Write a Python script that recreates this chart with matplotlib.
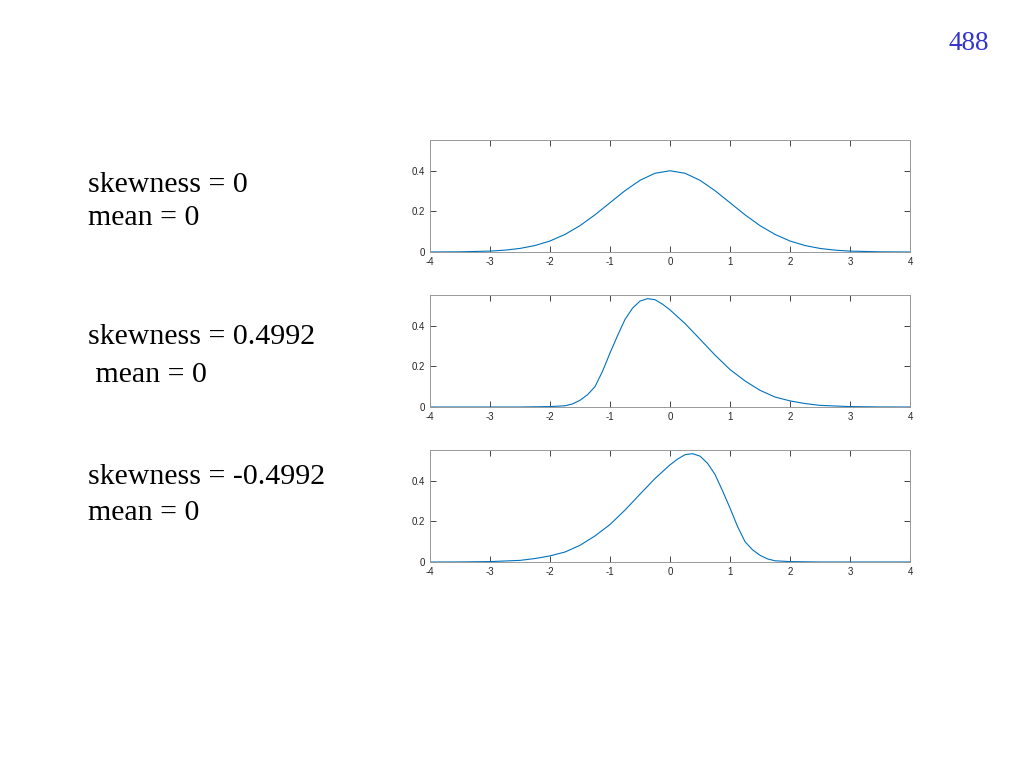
import matplotlib
matplotlib.use("Agg")
import matplotlib.pyplot as plt
plt.rcParams['axes.unicode_minus'] = False

x_norm = [-4,-3.5,-3,-2.75,-2.5,-2.25,-2,-1.75,-1.5,-1.25,-1,-0.75,-0.5,-0.25,0,
          0.25,0.5,0.75,1,1.25,1.5,1.75,2,2.25,2.5,2.75,3,3.5,4]
y_norm = [0.0001,0.0009,0.0044,0.0091,0.0175,0.0317,0.054,0.0863,0.1295,0.1826,0.242,0.3011,0.3521,0.3867,0.3989,
          0.3867,0.3521,0.3011,0.242,0.1826,0.1295,0.0863,0.054,0.0317,0.0175,0.0091,0.0044,0.0009,0.0001]

x_skew = [-4,-3,-2.5,-2.25,-2,-1.75,-1.625,-1.5,-1.375,-1.25,-1.125,-1,-0.875,-0.75,-0.625,-0.5,-0.375,-0.25,
          -0.125,0,0.25,0.5,0.75,1,1.25,1.5,1.75,2,2.25,2.5,3,3.5,4]
y_skew = [0,0,0,0.001,0.002,0.006,0.015,0.033,0.06,0.10,0.175,0.265,0.35,0.43,0.485,0.52,0.532,0.527,
          0.505,0.477,0.41,0.333,0.255,0.184,0.128,0.082,0.049,0.030,0.017,0.008,0.002,0.0003,0]

x_left = [-v for v in x_skew]

labels1 = ["skewness = 0", "skewness = 0.4992", "skewness = -0.4992"]
labels2 = ["mean = 0", " mean = 0", "mean = 0"]
lab_y1 = [185, 337, 477]
lab_y2 = [218, 375, 513]
series = [(x_norm, y_norm), (x_skew, y_skew), (x_left, y_skew)]

fig = plt.figure(figsize=(10.24, 7.68), dpi=100)
W, H = 1024, 768
tops = [140, 295, 450]
grey = "#262626"
for (xs, ys), top in zip(series, tops):
    ax = fig.add_axes([430/W, 1-(top+112)/H, 480/W, 112/H])
    ax.plot(xs, ys, color="#0072BD", lw=0.8)
    ax.set_xlim(-4, 4)
    ax.set_ylim(0, 0.55)
    ax.set_xticks(range(-4, 5))
    ax.set_yticks([0, 0.2, 0.4])
    ax.set_yticklabels(["0", "0.2", "0.4"])
    ax.tick_params(direction="in", top=True, right=True, labelsize=7, colors=grey, length=4, width=0.6)
    for s in ax.spines.values():
        s.set_color("#999999"); s.set_linewidth(0.7)
    for t in ax.get_xticklabels() + ax.get_yticklabels():
        t.set_family("Liberation Sans")

for l1, l2, y1, y2 in zip(labels1, labels2, lab_y1, lab_y2):
    fig.text(88/W, 1-y1/H, l1, family="Liberation Serif", fontsize=21.5, va="center")
    fig.text(88/W, 1-y2/H, l2, family="Liberation Serif", fontsize=21.5, va="center")
fig.text(969/W, 1-44/H, "488", family="Liberation Serif", fontsize=19.5, color="#3333CC", ha="center", va="center")
fig.savefig("out.png", dpi=100)
